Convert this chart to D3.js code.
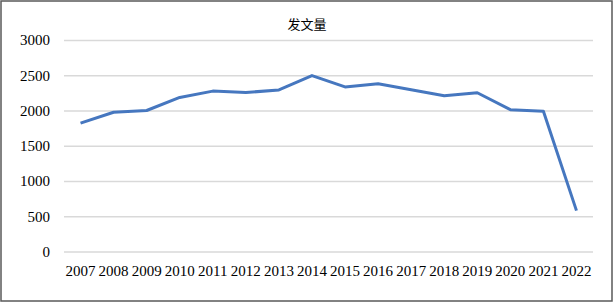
<!DOCTYPE html>
<html>
<head>
<meta charset="utf-8">
<script src="https://cdn.jsdelivr.net/npm/d3@7"></script>
<style>
  body { margin: 0; background: #fff; }
  svg { display: block; }
  .tick text { font-family: "Liberation Serif", "Times New Roman", "DejaVu Serif", serif; font-size: 15px; fill: #000; }
</style>
</head>
<body>
<svg id="chart" width="614" height="303"></svg>
<script>
const years = ['2007', '2008', '2009', '2010', '2011', '2012', '2013', '2014',
  '2015', '2016', '2017', '2018', '2019', '2020', '2021', '2022'];
const counts = [1820, 1975, 2000, 2185, 2275, 2255, 2292, 2495,
  2335, 2380, 2295, 2210, 2252, 2012, 1990, 580];
const yTicks = [0, 500, 1000, 1500, 2000, 2500, 3000];
const title = '发文量';

const svg = d3.select('#chart');
const margin = { left: 64, right: 21, top: 40, bottom: 51 };
const width = 614, height = 303;

svg.append('rect')
  .attr('x', 1).attr('y', 1)
  .attr('width', width - 3).attr('height', height - 3)
  .attr('fill', '#fff')
  .attr('stroke', '#595959')
  .attr('stroke-width', 1.5);

const x = d3.scaleBand()
  .domain(years)
  .range([margin.left, width - margin.right]);

const y = d3.scaleLinear()
  .domain([0, 3000])
  .range([height - margin.bottom - 0.5, margin.top]);

// gridlines + y labels
const yAxis = svg.append('g')
  .attr('transform', `translate(${margin.left},0)`)
  .call(d3.axisLeft(y)
    .tickValues(yTicks)
    .tickFormat(d3.format('d'))
    .tickSize(-(width - margin.left - margin.right))
    .tickPadding(14));
yAxis.select('.domain').remove();
yAxis.selectAll('line').attr('stroke', '#d9d9d9').attr('stroke-width', 1.3);

const xAxis = svg.append('g')
  .attr('transform', `translate(0,${height - margin.bottom})`)
  .call(d3.axisBottom(x).tickSize(0).tickPadding(13));
xAxis.select('.domain').remove();

const line = d3.line()
  .x((d, i) => x(years[i]) + x.bandwidth() / 2)
  .y(d => y(d));

svg.append('path')
  .datum(counts)
  .attr('d', line)
  .attr('fill', 'none')
  .attr('stroke', '#4677bf')
  .attr('stroke-width', 3)
  .attr('stroke-linejoin', 'round');

svg.append('text')
  .attr('x', width / 2)
  .attr('y', 29)
  .attr('text-anchor', 'middle')
  .attr('font-family', '"Noto Sans CJK SC", sans-serif')
  .attr('font-size', 13)
  .attr('fill', '#000')
  .text(title);
</script>
</body>
</html>
